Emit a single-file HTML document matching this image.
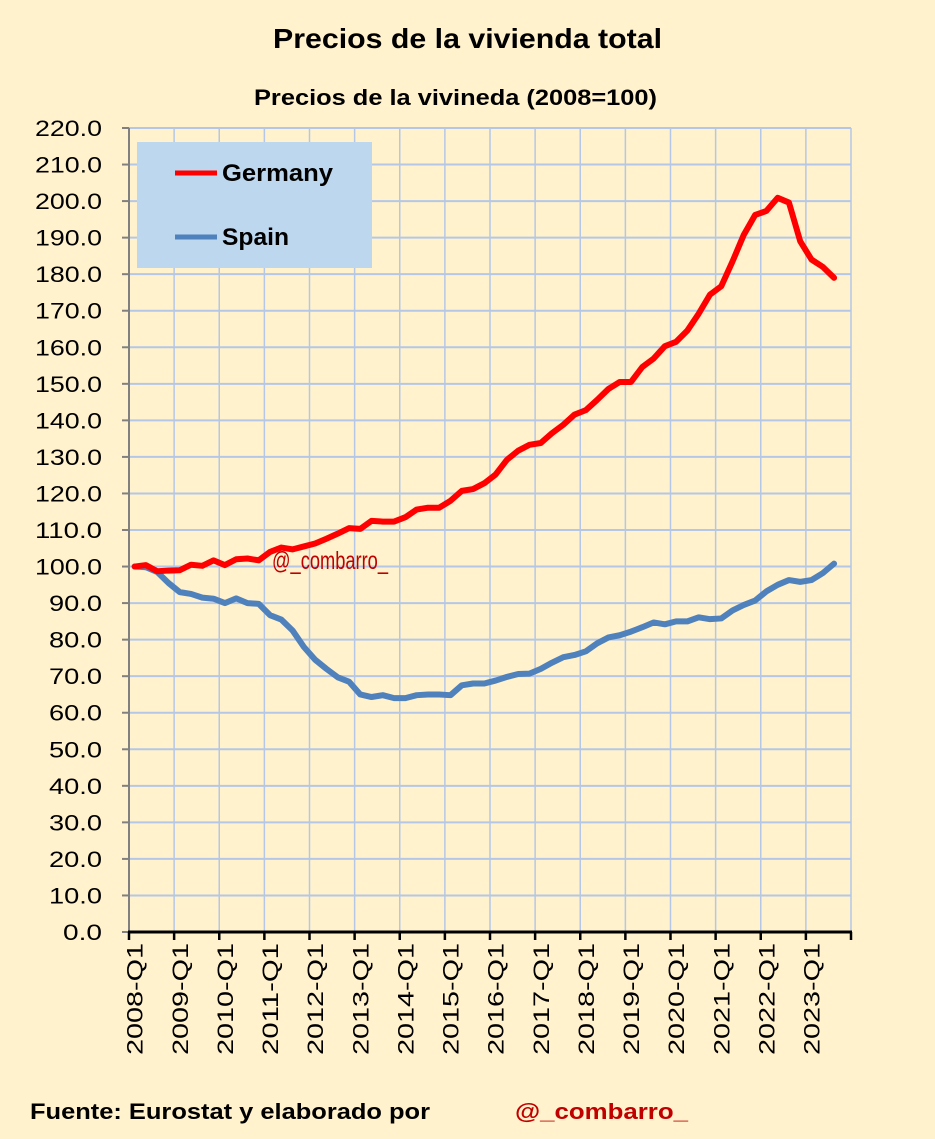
<!DOCTYPE html>
<html><head><meta charset="utf-8"><style>
body{margin:0;background:#fff2cc;}
svg text{font-family:"Liberation Sans",sans-serif;}
</style></head><body>
<svg id="chart" width="935" height="1134" xmlns="http://www.w3.org/2000/svg">
<rect width="935" height="1134" fill="#fff2cc"/>
<text x="273" y="48" font-size="28" font-weight="bold" textLength="389" lengthAdjust="spacingAndGlyphs">Precios de la vivienda total</text>
<text x="254" y="105" font-size="22" font-weight="bold" textLength="403" lengthAdjust="spacingAndGlyphs">Precios de la vivineda (2008=100)</text>
<g id="grid"></g>
<g id="axes"></g>
<g id="series"></g>
<text x="272" y="569" font-size="25" fill="#c00000" textLength="116" lengthAdjust="spacingAndGlyphs">@_combarro_</text>
<g>
<rect x="137" y="142" width="235" height="126" fill="#bdd7ee"/>
<line x1="175" y1="173" x2="217" y2="173" stroke="#ff0000" stroke-width="5"/>
<text x="222" y="181" font-size="24" font-weight="bold" textLength="111" lengthAdjust="spacingAndGlyphs">Germany</text>
<line x1="175" y1="237" x2="217" y2="237" stroke="#4f81bd" stroke-width="5"/>
<text x="222" y="245" font-size="24" font-weight="bold" textLength="67" lengthAdjust="spacingAndGlyphs">Spain</text>
</g>
<text x="30" y="1119" font-size="22" font-weight="bold" textLength="400" lengthAdjust="spacingAndGlyphs">Fuente: Eurostat y elaborado por</text>
<text x="515" y="1119" font-size="22" font-weight="bold" fill="#c00000" textLength="173" lengthAdjust="spacingAndGlyphs">@_combarro_</text>
</svg>
<script>
const germany=[100,100.4,98.7,98.9,99,100.5,100.2,101.7,100.4,102,102.2,101.7,104,105.2,104.7,105.5,106.3,107.6,109,110.5,110.3,112.5,112.3,112.3,113.5,115.6,116.1,116.1,118,120.7,121.2,122.8,125.2,129.2,131.7,133.3,133.8,136.5,138.8,141.6,142.8,145.6,148.6,150.5,150.5,154.6,156.9,160.3,161.5,164.6,169.2,174.4,176.7,183.5,190.8,196.2,197.3,200.9,199.6,189,184,182,179];
const spain=[100,99.8,98.5,95.5,93,92.5,91.5,91.2,90,91.3,90,89.8,86.7,85.5,82.5,78,74.5,72,69.7,68.5,65,64.3,64.8,64,64,64.8,65,65,64.8,67.5,68,68,68.8,69.8,70.6,70.7,72,73.7,75.2,75.8,76.8,79,80.6,81.2,82.2,83.4,84.7,84.2,85,85,86.1,85.6,85.8,88,89.5,90.7,93.2,95,96.3,95.8,96.3,98.2,100.8];
const years=[2008,2009,2010,2011,2012,2013,2014,2015,2016,2017,2018,2019,2020,2021,2022,2023];
const yTicks=[0,10,20,30,40,50,60,70,80,90,100,110,120,130,140,150,160,170,180,190,200,210,220];
const NS="http://www.w3.org/2000/svg";
const X0=129,X1=851,Y0=932,Y1=128,NCAT=64,YMAX=220;
const cw=(X1-X0)/NCAT;
function x(i){return X0+(i+0.5)*cw;}
function y(v){return Y0-(v/YMAX)*(Y0-Y1);}
function mk(tag,attrs,parent){const e=document.createElementNS(NS,tag);for(const k in attrs)e.setAttribute(k,attrs[k]);parent.appendChild(e);return e;}
const grid=document.getElementById('grid'),axes=document.getElementById('axes'),series=document.getElementById('series');
yTicks.forEach(t=>{
  const l=mk('line',{x1:X0,x2:X1,y1:y(t),y2:y(t),stroke:'#b4c7e7','stroke-width':2},grid);
  
  
  const tk=mk('line',{x1:X0-7,x2:X0,y1:y(t),y2:y(t),stroke:'#808080','stroke-width':2},axes);
  
  
  const s=t.toFixed(1);
  const tx=mk('text',{x:102,y:y(t)+8,'text-anchor':'end','font-size':22,textLength:(s.length===3?39:s.length===4?53:67),lengthAdjust:'spacingAndGlyphs'},axes);
  tx.textContent=s;
  
  
});
for(let k=0;k<=NCAT/4;k++){
  const xx=X0+k*4*cw;
  const g=mk('line',{x1:xx,x2:xx,y1:Y1,y2:Y0,stroke:'#b4c7e7','stroke-width':1.5},grid);
  
  
}
const ya=mk('line',{x1:X0,x2:X0,y1:Y1,y2:Y0,stroke:'#808080','stroke-width':2},axes);


const xa=mk('line',{x1:X0-1,x2:X1+1,y1:Y0,y2:Y0,stroke:'#000','stroke-width':3},axes);


years.forEach((yr,k)=>{
  const xx=X0+k*4*cw;
  const tk=mk('line',{x1:xx,x2:xx,y1:Y0,y2:Y0+8,stroke:'#000','stroke-width':2.5},axes);
  
  
  const cx=x(k*4)+8;
  const tx=mk('text',{x:cx,y:943,'text-anchor':'end','font-size':22,textLength:112,lengthAdjust:'spacingAndGlyphs',transform:'rotate(-90 '+cx+' 943)'},axes);
  tx.textContent=yr+'-Q1';
  
  
});
const xe=mk('line',{x1:X1,x2:X1,y1:Y0,y2:Y0+8,stroke:'#000','stroke-width':2.5},axes);


function line(arr,col,name){
  const p=mk('polyline',{points:arr.map((v,i)=>x(i)+','+y(v)).join(' '),fill:'none',stroke:col,'stroke-width':6,'stroke-linejoin':'round','stroke-linecap':'round'},series);
  
  
}
line(spain,'#4f81bd','spain-line');
line(germany,'#ff0000','germany-line');
</script>
</body></html>
